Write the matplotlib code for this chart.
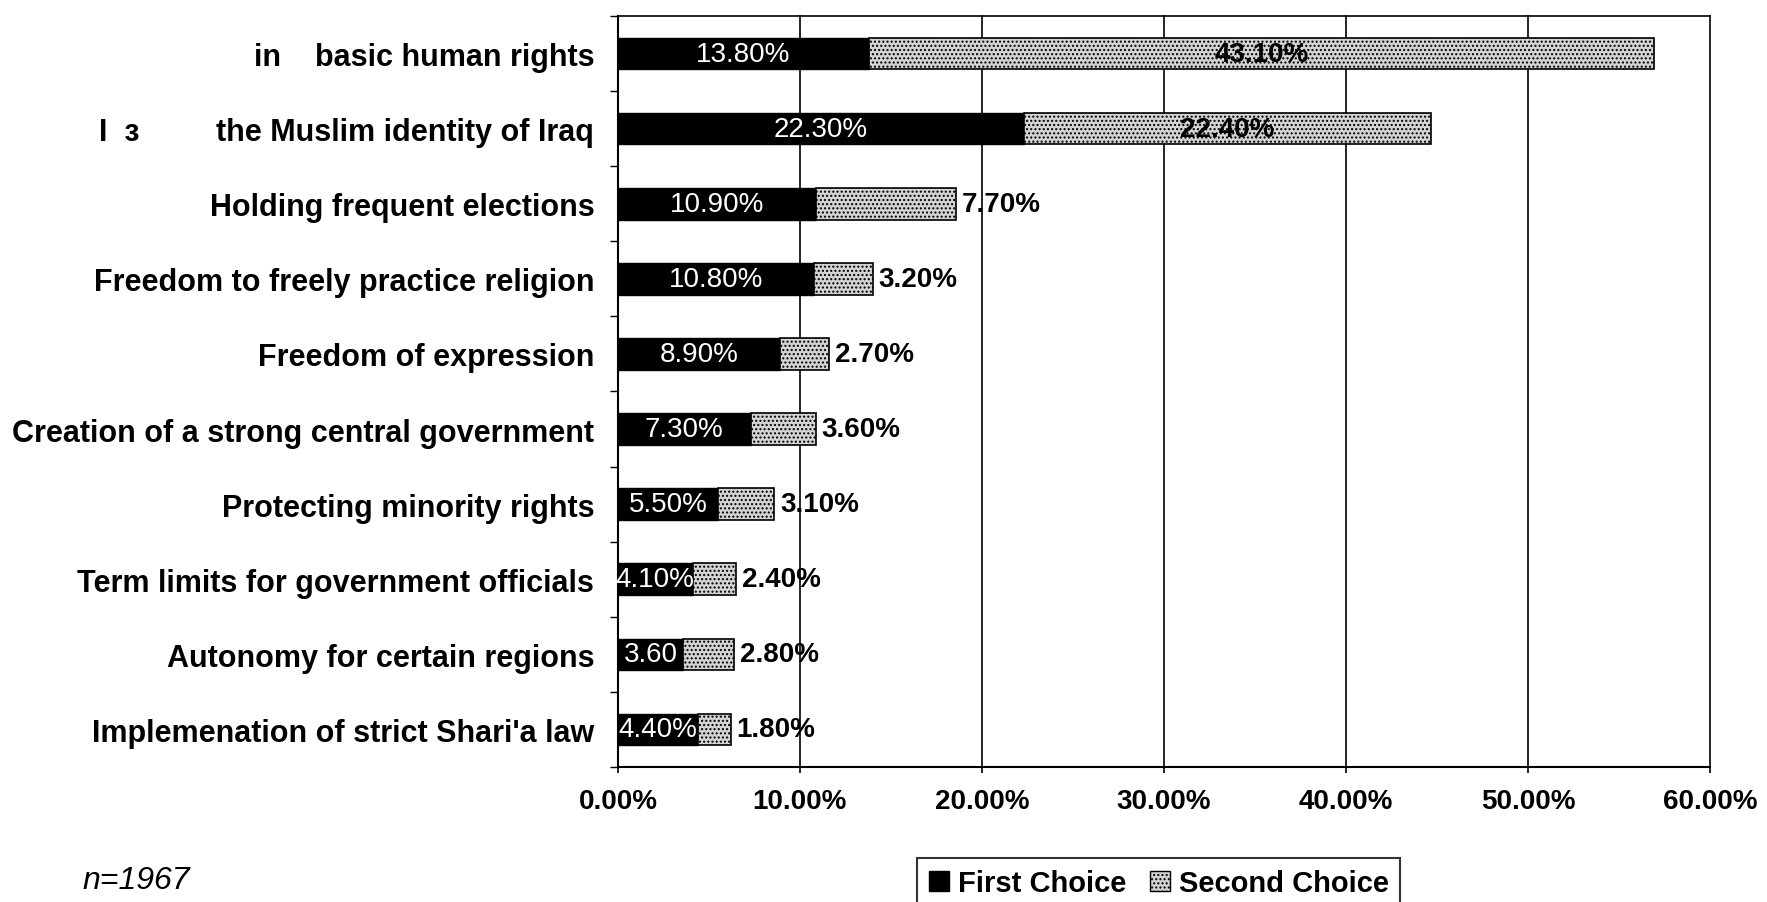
import numpy as np
import matplotlib.pyplot as plt
from matplotlib.patches import Patch

plt.rcParams['font.family'] = ['Liberation Sans', 'DejaVu Sans']
plt.rcParams['hatch.color'] = '#555555'
plt.rcParams['hatch.linewidth'] = 1.0

categories = [
    "in    basic human rights",
    "I  \u0437         the Muslim identity of Iraq",
    "Holding frequent elections",
    "Freedom to freely practice religion",
    "Freedom of expression",
    "Creation of a strong central government",
    "Protecting minority rights",
    "Term limits for government officials",
    "Autonomy for certain regions",
    "Implemenation of strict Shari'a law",
]
first_choice = [13.8, 22.3, 10.9, 10.8, 8.9, 7.3, 5.5, 4.1, 3.6, 4.4]
second_choice = [43.1, 22.4, 7.7, 3.2, 2.7, 3.6, 3.1, 2.4, 2.8, 1.8]
first_labels = ["13.80%", "22.30%", "10.90%", "10.80%", "8.90%",
                "7.30%", "5.50%", "4.10%", "3.60", "4.40%"]
second_labels = ["43.10%", "22.40%", "7.70%", "3.20%", "2.70%",
                 "3.60%", "3.10%", "2.40%", "2.80%", "1.80%"]
x_ticks = [0, 10, 20, 30, 40, 50, 60]

fig = plt.figure(figsize=(17.67, 9.03), dpi=100)
ax = fig.add_axes([0.3497, 0.1495, 0.618, 0.8317])

y = np.arange(len(categories))
ax.barh(y, first_choice, height=0.42, color='black', edgecolor='black', zorder=3)
ax.barh(y, second_choice, left=first_choice, height=0.42, color='#d4d4d4',
        edgecolor='black', linewidth=1.2, hatch='....', zorder=3)

for i in range(len(categories)):
    ax.text(first_choice[i] / 2, y[i], first_labels[i], color='white',
            ha='center', va='center', fontsize=20, zorder=4)
    if second_choice[i] > 15:
        ax.text(first_choice[i] + second_choice[i] / 2, y[i], second_labels[i],
                color='black', ha='center', va='center', fontsize=20,
                fontweight='bold', zorder=4)
    else:
        ax.text(first_choice[i] + second_choice[i] + 0.3, y[i], second_labels[i],
                color='black', ha='left', va='center', fontsize=20,
                fontweight='bold', zorder=4)

ax.set_xlim(0, 60)
ax.set_ylim(len(categories) - 0.5, -0.5)
ax.set_xticks(x_ticks)
ax.set_xticklabels(["%.2f%%" % v for v in x_ticks], fontsize=20, fontweight='bold')
ax.set_yticks(y)
ax.set_yticklabels(categories, fontsize=22, fontweight='bold')
ax.set_yticks(np.arange(len(categories) + 1) - 0.5, minor=True)
ax.tick_params(axis='y', which='major', length=0, pad=17)
ax.tick_params(axis='y', which='minor', length=6, width=1, direction='out')
ax.tick_params(axis='x', length=4, width=1.2, pad=11)
ax.grid(axis='x', color='black', linewidth=1.2, zorder=0)
for gl in ax.get_xgridlines():
    gl.set_clip_on(False)
ax.spines['right'].set_visible(False)
ax.spines['top'].set_linewidth(1.2)
ax.spines['left'].set_linewidth(1.5)
ax.spines['bottom'].set_linewidth(1.5)

handles = [Patch(facecolor='black', edgecolor='black', label='First Choice'),
           Patch(facecolor='#d4d4d4', edgecolor='black', hatch='....', label='Second Choice')]
leg = fig.legend(handles=handles, loc='upper left', bbox_to_anchor=(0.519, 0.049),
                 ncol=2, frameon=True, fancybox=False, edgecolor='black',
                 prop={'size': 21, 'weight': 'bold'}, handlelength=0.7,
                 handleheight=0.7, handletextpad=0.3, columnspacing=0.8,
                 borderpad=0.4, borderaxespad=0)
leg.get_frame().set_linewidth(1.5)

fig.text(0.0464, 0.015, "n=1967", fontsize=23, style='italic', va='baseline')

fig.savefig('out.png', dpi=100)
